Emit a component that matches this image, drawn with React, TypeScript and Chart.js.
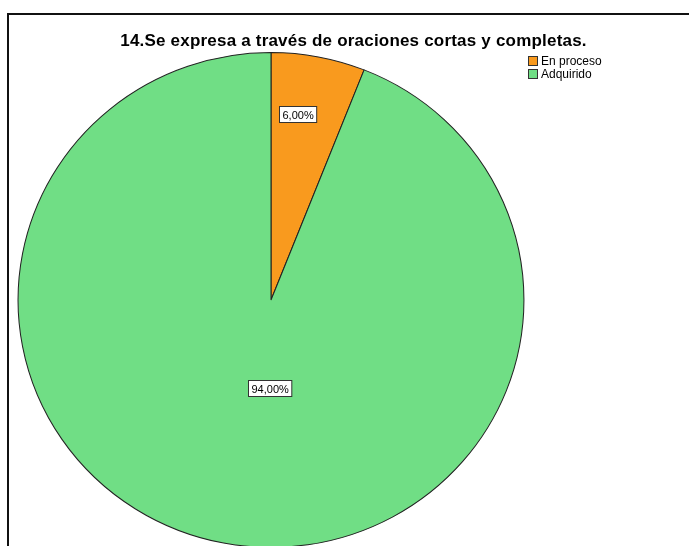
import React, { useEffect, useRef } from "react";
import { Chart, registerables } from "chart.js";

Chart.register(...registerables);

const titleText = "14.Se expresa a través de oraciones cortas y completas.";
const categories = ["En proceso", "Adquirido"];
const percentages = [6.0, 94.0];
const sliceColors = ["#F99A1E", "#70DE85"];
// where each value label sits: fraction of the slice's angle, fraction of the radius
const labelAngleFrac = [0.37, 0.47];
const labelRadiusFrac = [0.76, 0.355];
const pieStretchX = 1.022;

const fmt = (v: number) => v.toFixed(2).replace(".", ",") + "%";

const stretchPlugin = {
  id: "stretch",
  beforeDatasetsDraw(chart: any) {
    const ctx = chart.ctx as CanvasRenderingContext2D;
    const a = chart.chartArea;
    const cx = (a.left + a.right) / 2;
    ctx.save();
    ctx.translate(cx, 0);
    ctx.scale(pieStretchX, 1);
    ctx.translate(-cx, 0);
  },
  afterDatasetsDraw(chart: any) {
    chart.ctx.restore();
  },
};

const decorPlugin = {
  id: "decor",
  afterDraw(chart: any) {
    const ctx = chart.ctx as CanvasRenderingContext2D;
    ctx.save();
    // frame
    ctx.strokeStyle = "#111";
    ctx.lineWidth = 2;
    ctx.beginPath();
    ctx.moveTo(8, 600);
    ctx.lineTo(8, 14);
    ctx.lineTo(700, 14);
    ctx.stroke();

    // title
    ctx.fillStyle = "#000";
    ctx.font = "bold 17px 'Liberation Sans', Arial, sans-serif";
    (ctx as any).letterSpacing = "0.2px";
    ctx.textAlign = "center";
    ctx.textBaseline = "alphabetic";
    ctx.fillText(titleText, 353.5, 46);
    (ctx as any).letterSpacing = "0px";

    // legend
    ctx.font = "12px 'Liberation Sans', Arial, sans-serif";
    ctx.textAlign = "left";
    ctx.textBaseline = "middle";
    categories.forEach((c, i) => {
      const y = 56 + i * 13;
      ctx.fillStyle = sliceColors[i];
      ctx.fillRect(528, y, 10, 10);
      ctx.strokeStyle = "#333";
      ctx.lineWidth = 1;
      ctx.strokeRect(528.5, y + 0.5, 9, 9);
      ctx.fillStyle = "#000";
      ctx.fillText(c, 541, y + 5.5);
    });

    // value labels
    const meta = chart.getDatasetMeta(0);
    meta.data.forEach((arc: any, i: number) => {
      const p = arc.getProps(["x", "y", "startAngle", "endAngle", "outerRadius"], true);
      const a = p.startAngle + (p.endAngle - p.startAngle) * labelAngleFrac[i];
      const r = p.outerRadius * labelRadiusFrac[i];
      const cx = p.x + Math.cos(a) * r * pieStretchX;
      const cy = p.y + Math.sin(a) * r;
      const txt = fmt(percentages[i]);
      ctx.font = "11px 'Liberation Sans', Arial, sans-serif";
      const w = ctx.measureText(txt).width + 6;
      const h = 16;
      const bx = Math.round(cx - w / 2) + 0.5;
      const by = Math.round(cy - h / 2) + 0.5;
      ctx.fillStyle = "#fff";
      ctx.fillRect(bx, by, w, h);
      ctx.strokeStyle = "#333";
      ctx.lineWidth = 1;
      ctx.strokeRect(bx, by, w, h);
      ctx.fillStyle = "#000";
      ctx.textAlign = "center";
      ctx.textBaseline = "middle";
      ctx.fillText(txt, bx + w / 2, by + h / 2 + 1);
    });
    ctx.restore();
  },
};

export default function App() {
  const ref = useRef<HTMLCanvasElement>(null);
  useEffect(() => {
    if (!ref.current) return;
    const chart = new Chart(ref.current, {
      type: "pie",
      data: {
        labels: categories,
        datasets: [
          {
            data: percentages,
            backgroundColor: sliceColors,
            borderColor: "#222",
            borderWidth: 1,
          },
        ],
      },
      options: {
        responsive: false,
        animation: false,
        devicePixelRatio: 1,
        layout: { padding: { left: 23, right: 170, top: 52, bottom: 12 } },
        plugins: {
          legend: { display: false },
          title: { display: false },
          tooltip: { enabled: false },
        },
      },
      plugins: [stretchPlugin, decorPlugin],
    });
    return () => chart.destroy();
  }, []);
  return (
    <div style={{ position: "absolute", left: 0, top: 0, width: 689, height: 560, background: "#fff" }}>
      <canvas ref={ref} width={689} height={560} />
    </div>
  );
}
